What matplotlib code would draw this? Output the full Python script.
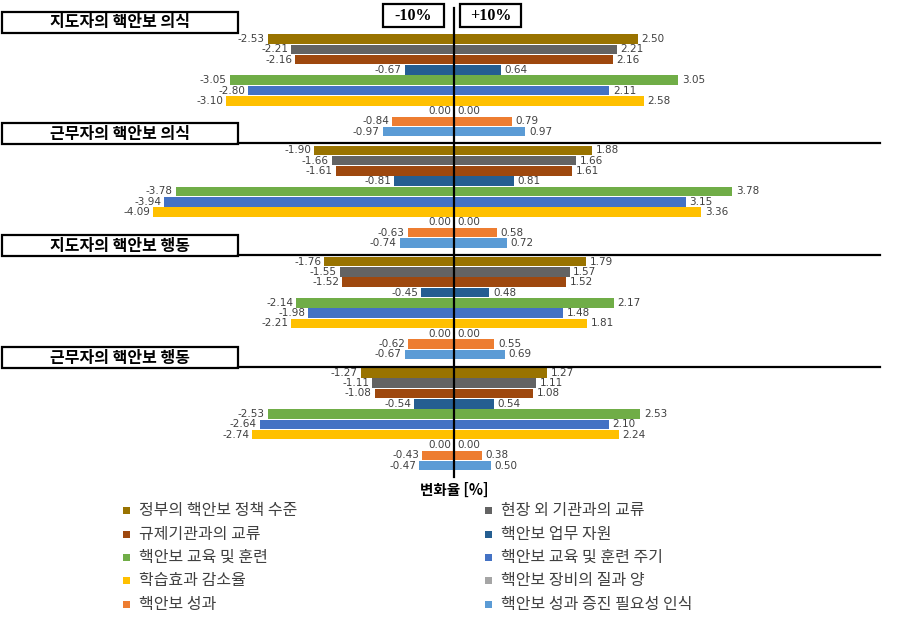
import matplotlib
matplotlib.use('Agg')
import matplotlib.pyplot as plt
from matplotlib.patches import Rectangle

plt.rcParams['font.family'] = ['Noto Sans CJK KR', 'DejaVu Sans']

cats = ['정부의 핵안보 정책 수준', '현장 외 기관과의 교류', '규제기관과의 교류', '핵안보 업무 자원',
        '핵안보 교육 및 훈련', '핵안보 교육 및 훈련 주기', '학습효과 감소율', '핵안보 장비의 질과 양',
        '핵안보 성과', '핵안보 성과 증진 필요성 인식']
colors = ['#997300', '#636363', '#9E480E', '#255E91', '#70AD47',
          '#4472C4', '#FFC000', '#A5A5A5', '#ED7D31', '#5B9BD5']
groups = ['지도자의 핵안보 의식', '근무자의 핵안보 의식', '지도자의 핵안보 행동', '근무자의 핵안보 행동']

neg1 = [-2.53, -2.21, -2.16, -0.67, -3.05, -2.80, -3.10, 0.00, -0.84, -0.97]
pos1 = [2.50, 2.21, 2.16, 0.64, 3.05, 2.11, 2.58, 0.00, 0.79, 0.97]
neg2 = [-1.90, -1.66, -1.61, -0.81, -3.78, -3.94, -4.09, 0.00, -0.63, -0.74]
pos2 = [1.88, 1.66, 1.61, 0.81, 3.78, 3.15, 3.36, 0.00, 0.58, 0.72]
neg3 = [-1.76, -1.55, -1.52, -0.45, -2.14, -1.98, -2.21, 0.00, -0.62, -0.67]
pos3 = [1.79, 1.57, 1.52, 0.48, 2.17, 1.48, 1.81, 0.00, 0.55, 0.69]
neg4 = [-1.27, -1.11, -1.08, -0.54, -2.53, -2.64, -2.74, 0.00, -0.43, -0.47]
pos4 = [1.27, 1.11, 1.08, 0.54, 2.53, 2.10, 2.24, 0.00, 0.38, 0.50]
negs = [neg1, neg2, neg3, neg4]
poss = [pos1, pos2, pos3, pos4]

W, H = 897, 627
fig = plt.figure(figsize=(W / 100, H / 100), dpi=100)
ax = fig.add_axes([0, 0, 1, 1])
# 73.6 px per unit, zero at x=454 px ; rows 10.3 px apart, first row at y=39 px
ax.set_xlim(-454 / 73.6, (W - 454) / 73.6)
ax.set_ylim((H - 39) / 10.3, -39 / 10.3)
ax.axis('off')

gpitch = 111.3 / 10.3
lab_kw = dict(fontsize=7.5, color='#404040', family='DejaVu Sans', va='center')
for g in range(4):
    for r in range(10):
        y = g * gpitch + r
        n, p = negs[g][r], poss[g][r]
        ax.barh(y, n, height=0.93, color=colors[r], zorder=2)
        ax.barh(y, p, height=0.93, color=colors[r], zorder=2)
        ax.text(n - 0.04, y, '%.2f' % n if n != 0 else '0.00', ha='right', **lab_kw)
        ax.text(p + 0.05, y, '%.2f' % p, ha='left', **lab_kw)

# center line
ax.plot([0, 0], [-31 / 10.3, (477 - 39) / 10.3], color='black', lw=1.6, zorder=3)

def px(x, y):
    return x / W, 1 - y / H

# group header boxes and separators
box_tops = [12, 123, 235, 347]
for g, t in enumerate(box_tops):
    fig.patches.append(Rectangle(px(2, t + 21), 236 / W, 21 / H, transform=fig.transFigure,
                                 fill=False, edgecolor='black', lw=1.6))
    fig.text(*px(120, t + 10.5), groups[g], ha='center', va='center',
             fontsize=11.5, fontweight='bold')
    if g > 0:
        fig.lines.append(plt.Line2D([238 / W, 880 / W], [1 - (t + 20) / H] * 2,
                                    transform=fig.transFigure, color='black', lw=1.6))

# -10% / +10% boxes
for x0, x1, s in [(383, 444, '-10%'), (460, 521, '+10%')]:
    fig.patches.append(Rectangle(px(x0, 27), (x1 - x0) / W, 23 / H, transform=fig.transFigure,
                                 fill=False, edgecolor='black', lw=1.6))
    fig.text(*px((x0 + x1) / 2, 15.5), s, ha='center', va='center', fontsize=11.5,
             fontweight='bold', family='Liberation Serif')

fig.text(*px(454, 490), '변화율 [%]', ha='center', va='center', fontsize=10.5, fontweight='bold')

# legend, row-major two columns
rows_y = [510, 534, 557, 580, 604]
for i, c in enumerate(cats):
    mx = 123 if i % 2 == 0 else 485
    yy = rows_y[i // 2]
    fig.patches.append(Rectangle(px(mx, yy + 4), 7 / W, 7 / H, transform=fig.transFigure,
                                 facecolor=colors[i], edgecolor='none'))
    fig.text(*px(mx + 16, yy), c, ha='left', va='center', fontsize=11.5, color='#404040')

fig.savefig('out.png', dpi=100)
